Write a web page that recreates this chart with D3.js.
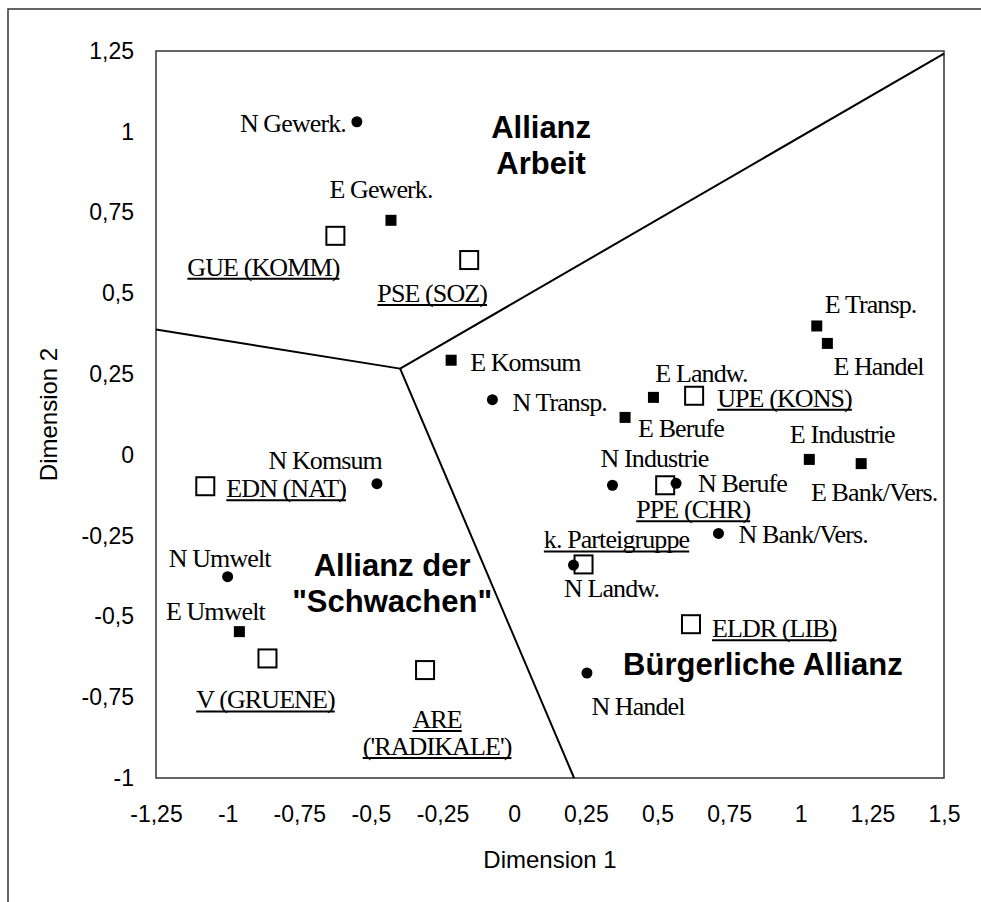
<!DOCTYPE html>
<html lang="de">
<head>
<meta charset="UTF-8">
<title>Allianzen</title>
<script src="https://cdn.jsdelivr.net/npm/d3@7"></script>
<style>
    body{ margin:0; background:#fff; }
    .tick text{ font-family:"Liberation Sans", Arial, sans-serif; font-size:23px; fill:#000; }
    .axis-title{ font-family:"Liberation Sans", Arial, sans-serif; font-size:24px; fill:#000; }
    .pt-label{ font-family:"Liberation Serif", "Times New Roman", serif; font-size:26px; letter-spacing:-0.9px; fill:#000; }
    .region{ font-family:"Liberation Sans", Arial, sans-serif; font-size:31px; font-weight:bold; fill:#000; }
</style>
</head>
<body>
<svg id="chart" width="981" height="902"></svg>
<script>
// --- data ---
var xTicks = [-1.25, -1, -0.75, -0.5, -0.25, 0, 0.25, 0.5, 0.75, 1, 1.25, 1.5];
var yTicks = [-1, -0.75, -0.5, -0.25, 0, 0.25, 0.5, 0.75, 1, 1.25];

// N = circles
var nLabels = ["N Gewerk.", "N Komsum", "N Transp.", "N Industrie", "N Berufe", "N Bank/Vers.", "N Landw.", "N Umwelt", "N Handel"];
var nDim1   = [-0.549, -0.479, -0.076, 0.343, 0.565, 0.713, 0.207, -1.0, 0.254];
var nDim2   = [1.031, -0.089, 0.171, -0.094, -0.088, -0.243, -0.341, -0.377, -0.675];

// E = filled squares
var eLabels = ["E Gewerk.", "E Komsum", "E Transp.", "E Handel", "E Landw.", "E Berufe", "E Industrie", "E Bank/Vers.", "E Umwelt"];
var eDim1   = [-0.430, -0.220, 1.056, 1.093, 0.486, 0.387, 1.030, 1.211, -0.959];
var eDim2   = [0.726, 0.293, 0.399, 0.345, 0.178, 0.116, -0.014, -0.027, -0.547];

// party groups = open squares
var pLabels = ["GUE (KOMM)", "PSE (SOZ)", "EDN (NAT)", "UPE (KONS)", "PPE (CHR)", "k. Parteigruppe", "ELDR (LIB)", "V (GRUENE)", "ARE|('RADIKALE')"];
var pDim1   = [-0.624, -0.157, -1.078, 0.628, 0.527, 0.242, 0.617, -0.861, -0.311];
var pDim2   = [0.678, 0.603, -0.097, 0.183, -0.094, -0.339, -0.524, -0.630, -0.666];

// boundaries: three lines out of one junction
var junction = [-0.398, 0.267];
var boundaryEnds = [[-1.25, 0.388], [1.5, 1.242], [0.209, -1]];

// region titles
var regionLines = [["Allianz", "Arbeit"], ["Allianz der", "\"Schwachen\""], ["Bürgerliche Allianz"]];
var regionDim1  = [0.094, -0.426, 0.38];
var regionDim2  = [0.98, -0.375, -0.68];
var regionAnchor = ["middle", "middle", "start"];

// label placement (pixels from the marker): [dx, dy, anchor]
var place = {
    "N Gewerk.": [-11, 10, "end"], "N Komsum": [5, -15, "end"], "N Transp.": [20, 11, "start"],
    "N Industrie": [42, -18, "middle"], "N Berufe": [22, 9, "start"], "N Bank/Vers.": [20, 10, "start"],
    "N Landw.": [38, 32, "middle"], "N Umwelt": [-8, -10, "middle"], "N Handel": [51, 42, "middle"],
    "E Gewerk.": [-10, -22, "middle"], "E Komsum": [19, 11, "start"], "E Transp.": [8, -13, "start"],
    "E Handel": [6, 32, "start"], "E Landw.": [48, -15, "middle"], "E Berufe": [13, 20, "start"],
    "E Industrie": [33, -16, "middle"], "E Bank/Vers.": [13, 37, "middle"], "E Umwelt": [-24, -12, "middle"],
    "GUE (KOMM)": [-72, 40, "middle"], "PSE (SOZ)": [-37, 42, "middle"], "EDN (NAT)": [21, 11, "start"],
    "UPE (KONS)": [23, 11, "start"], "PPE (CHR)": [28, 33, "middle"], "k. Parteigruppe": [33, -16, "middle"],
    "ELDR (LIB)": [21, 13, "start"], "V (GRUENE)": [-2, 50, "middle"], "ARE|('RADIKALE')": [12, 58, "middle"]
};

var svg = d3.select("#chart");

// outer frame
svg.append("rect").attr("x", 8).attr("y", 9).attr("width", 1000).attr("height", 1000)
    .attr("fill", "none").attr("stroke", "#333").attr("stroke-width", 1.5);

var plotL = 156, plotR = 944, plotT = 51, plotB = 778;
var x = d3.scaleLinear().domain([-1.25, 1.5]).range([plotL, plotR]);
var y = d3.scaleLinear().domain([-1, 1.25]).range([plotB, plotT]);

svg.append("rect").attr("x", plotL).attr("y", plotT).attr("width", plotR - plotL).attr("height", plotB - plotT)
    .attr("fill", "#fff").attr("stroke", "#333").attr("stroke-width", 1.5);

var fmt = function(d){ return String(d).replace(".", ","); };

var gx = svg.append("g").attr("transform", "translate(0," + plotB + ")")
    .call(d3.axisBottom(x).tickValues(xTicks).tickFormat(fmt).tickSize(0).tickPadding(28));
gx.select(".domain").remove();
var gy = svg.append("g").attr("transform", "translate(" + plotL + ",0)")
    .call(d3.axisLeft(y).tickValues(yTicks).tickFormat(fmt).tickSize(0).tickPadding(22));
gy.select(".domain").remove();
gx.selectAll("text").attr("dy", "0.71em");

svg.append("text").attr("class", "axis-title").attr("x", (plotL + plotR) / 2).attr("y", 868)
    .attr("text-anchor", "middle").text("Dimension 1");
svg.append("text").attr("class", "axis-title").attr("transform", "translate(57," + (plotT + plotB) / 2 + ") rotate(-90)")
    .attr("text-anchor", "middle").text("Dimension 2");

// boundary lines
svg.append("g").selectAll("line").data(boundaryEnds).enter().append("line")
    .attr("x1", x(junction[0])).attr("y1", y(junction[1]))
    .attr("x2", function(d){ return x(d[0]); }).attr("y2", function(d){ return y(d[1]); })
    .attr("stroke", "#000").attr("stroke-width", 2);

// region titles
regionLines.forEach(function(lines, i){
    var t = svg.append("text").attr("class", "region")
        .attr("x", x(regionDim1[i])).attr("y", y(regionDim2[i]))
        .attr("text-anchor", regionAnchor[i]);
    lines.forEach(function(s, j){
        t.append("tspan").attr("x", x(regionDim1[i])).attr("dy", j ? 36 : 0).text(s);
    });
});

function rows(labels, d1, d2){
    return labels.map(function(l, i){ return {label: l, d1: d1[i], d2: d2[i]}; });
}
var nData = rows(nLabels, nDim1, nDim2);
var eData = rows(eLabels, eDim1, eDim2);
var pData = rows(pLabels, pDim1, pDim2);

var marks = svg.append("g");
marks.selectAll("rect.party").data(pData).enter().append("rect").attr("class", "party")
    .attr("x", function(d){ return x(d.d1) - 9; }).attr("y", function(d){ return y(d.d2) - 9; })
    .attr("width", 18).attr("height", 18).attr("fill", "#fff").attr("stroke", "#000").attr("stroke-width", 2);
marks.selectAll("circle").data(nData).enter().append("circle")
    .attr("cx", function(d){ return x(d.d1); }).attr("cy", function(d){ return y(d.d2); })
    .attr("r", 5.5).attr("fill", "#000");
marks.selectAll("rect.e").data(eData).enter().append("rect").attr("class", "e")
    .attr("x", function(d){ return x(d.d1) - 5.5; }).attr("y", function(d){ return y(d.d2) - 5.5; })
    .attr("width", 11).attr("height", 11).attr("fill", "#000");

// labels
var labG = svg.append("g");
function addLabels(data, underline){
    data.forEach(function(d){
        var p = place[d.label];
        var px = x(d.d1) + p[0], py = y(d.d2) + p[1];
        d.label.split("|").forEach(function(s, j){
            var t = labG.append("text").attr("class", "pt-label")
                .attr("x", px).attr("y", py + j * 27).attr("text-anchor", p[2]).text(s);
            if (underline) {
                var w = t.node().getComputedTextLength();
                var x0 = p[2] === "start" ? px : p[2] === "end" ? px - w : px - w / 2;
                labG.append("line").attr("x1", x0).attr("x2", x0 + w)
                    .attr("y1", py + j * 27 + 3).attr("y2", py + j * 27 + 3)
                    .attr("stroke", "#000").attr("stroke-width", 2);
            }
        });
    });
}
addLabels(nData, false);
addLabels(eData, false);
addLabels(pData, true);
</script>
</body>
</html>
